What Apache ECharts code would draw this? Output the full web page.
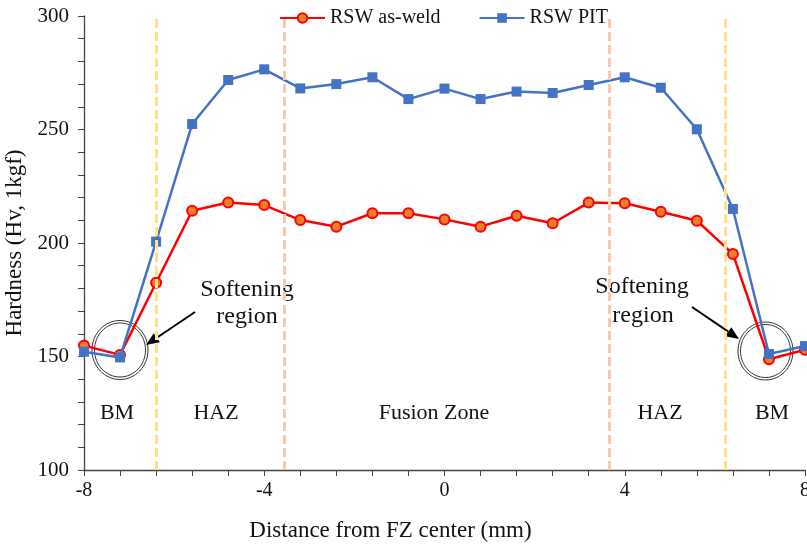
<!DOCTYPE html>
<html>
<head>
<meta charset="utf-8">
<script src="https://cdn.jsdelivr.net/npm/echarts@6/dist/echarts.min.js"></script>
<style>
  html, body { margin: 0; padding: 0; background: #fff; }
  #chart { width: 807px; height: 545px; }
</style>
</head>
<body>
<div id="chart"></div>
<script>
// measurement positions (mm from FZ center)
const positions = [-8, -7.2, -6.4, -5.6, -4.8, -4.0, -3.2, -2.4, -1.6, -0.8, 0,
                   0.8, 1.6, 2.4, 3.2, 4.0, 4.8, 5.6, 6.4, 7.2, 8.0];
const asWeld = [154.8, 150.7, 182.5, 214.2, 217.8, 216.7, 210.1, 207.2, 213.1, 213.1, 210.4,
                207.2, 212.0, 208.7, 217.8, 217.5, 213.8, 209.8, 195.2, 148.8, 153.0];
const pit = [152.1, 149.6, 200.6, 252.4, 271.8, 276.5, 268.1, 270.0, 273.0, 263.4, 268.0,
             263.4, 266.7, 266.1, 269.6, 273.0, 268.4, 250.1, 215.0, 151.1, 154.6];
// zone boundaries (mm)
const bmHazBounds = [-6.4, 6.22];
const hazFzBounds = [-3.56, 3.65];

const FONT = 'Liberation Serif';
const chart = echarts.init(document.getElementById('chart'));

function pairs(ys) {
  return positions.map((x, i) => [x, ys[i]]);
}

function arrow(x1, y1, x2, y2) {
  // shaft + filled head pointing to (x2, y2)
  const a = Math.atan2(y2 - y1, x2 - x1);
  const len = 13, half = 5.5;
  const bx = x2 - len * Math.cos(a), by = y2 - len * Math.sin(a);
  const px = -Math.sin(a) * half, py = Math.cos(a) * half;
  return [
    { type: 'line', shape: { x1: x1, y1: y1, x2: bx, y2: by }, style: { stroke: '#000', lineWidth: 2 } },
    { type: 'polygon', shape: { points: [[x2, y2], [bx + px, by + py], [bx - px, by - py]] }, style: { fill: '#000' } }
  ];
}

function ring(cx, cy, rx, ry) {
  return [
    { type: 'ellipse', shape: { cx: cx, cy: cy, rx: rx, ry: ry }, style: { fill: null, stroke: '#333', lineWidth: 1 } },
    { type: 'ellipse', shape: { cx: cx, cy: cy, rx: rx - 2.5, ry: ry - 2.5 }, style: { fill: null, stroke: '#333', lineWidth: 1 } }
  ];
}

function label(text, x, y, size) {
  return { type: 'text', x: x, y: y, style: { text: text, fill: '#111', font: size + 'px "' + FONT + '"', align: 'center', verticalAlign: 'middle' } };
}

const dash = [9, 4];
const option = {
  animation: false,
  textStyle: { fontFamily: FONT },
  grid: { left: 84, right: 2, top: 16, bottom: 75, containLabel: false, outerBoundsMode: 'none' },
  legend: {
    data: ['RSW as-weld', 'RSW PIT'],
    left: 274, top: 3,
    itemWidth: 45, itemHeight: 12, itemGap: 38,
    textStyle: { fontFamily: FONT, fontSize: 20, color: '#111' }
  },
  xAxis: {
    type: 'value', min: -8, max: 8, interval: 4,
    name: 'Distance from FZ center (mm)', nameLocation: 'middle', nameGap: 49,
    nameTextStyle: { fontFamily: FONT, fontSize: 23, color: '#111', padding: [0, 108, 0, 0] },
    axisLine: { show: true, onZero: false, lineStyle: { color: '#444', width: 1.3 } },
    axisTick: { show: true, inside: false, length: 6, lineStyle: { color: '#444' } },
    minorTick: { show: true, splitNumber: 5, length: 6, lineStyle: { color: '#444' } },
    splitLine: { show: false },
    axisLabel: { fontFamily: FONT, fontSize: 20, color: '#111', margin: 11, showMinLabel: true, showMaxLabel: true }
  },
  yAxis: {
    type: 'value', min: 100, max: 300, interval: 50,
    name: 'Hardness (Hv, 1kgf)', nameLocation: 'middle', nameGap: 55,
    nameTextStyle: { fontFamily: FONT, fontSize: 23, color: '#111' },
    axisLine: { show: true, onZero: false, lineStyle: { color: '#444', width: 1.3 } },
    axisTick: { show: true, inside: false, length: 6, lineStyle: { color: '#444' } },
    minorTick: { show: true, splitNumber: 5, length: 6, lineStyle: { color: '#444' } },
    splitLine: { show: false },
    axisLabel: { fontFamily: FONT, fontSize: 21, color: '#111', margin: 15 }
  },
  series: [
    {
      name: 'zones', type: 'line', data: [], z: 1, silent: true,
      markLine: {
        symbol: 'none', silent: true, animation: false,
        label: { show: false },
        data: bmHazBounds.map(v => ({ xAxis: v, lineStyle: { color: '#FFE28A', width: 3, type: dash } }))
          .concat(hazFzBounds.map(v => ({ xAxis: v, lineStyle: { color: '#F8C9AA', width: 3, type: dash } })))
      }
    },
    {
      name: 'RSW as-weld', type: 'line', z: 3,
      data: pairs(asWeld),
      symbol: 'circle', symbolSize: 10,
      lineStyle: { color: '#FF0000', width: 2.5 },
      itemStyle: { color: '#ED7D31', borderColor: '#FF0000', borderWidth: 2 }
    },
    {
      name: 'RSW PIT', type: 'line', z: 4,
      data: pairs(pit),
      symbol: 'rect', symbolSize: 10,
      lineStyle: { color: '#4472C4', width: 2.5 },
      itemStyle: { color: '#4472C4' }
    }
  ],
  graphic: [
    label('BM', 117, 413, 22),
    label('HAZ', 216, 413, 22),
    label('Fusion Zone', 434, 413, 22),
    label('HAZ', 660, 413, 22),
    label('BM', 772, 413, 22),
    label('Softening', 247, 290, 24),
    label('region', 247, 317, 24),
    label('Softening', 642, 287, 24),
    label('region', 643, 316, 24)
  ].concat(ring(120, 350, 28, 29.5), ring(765.5, 351, 27.5, 29),
           arrow(195, 312, 146, 345), arrow(692, 307, 739, 339))
};

chart.setOption(option);
</script>
</body>
</html>
